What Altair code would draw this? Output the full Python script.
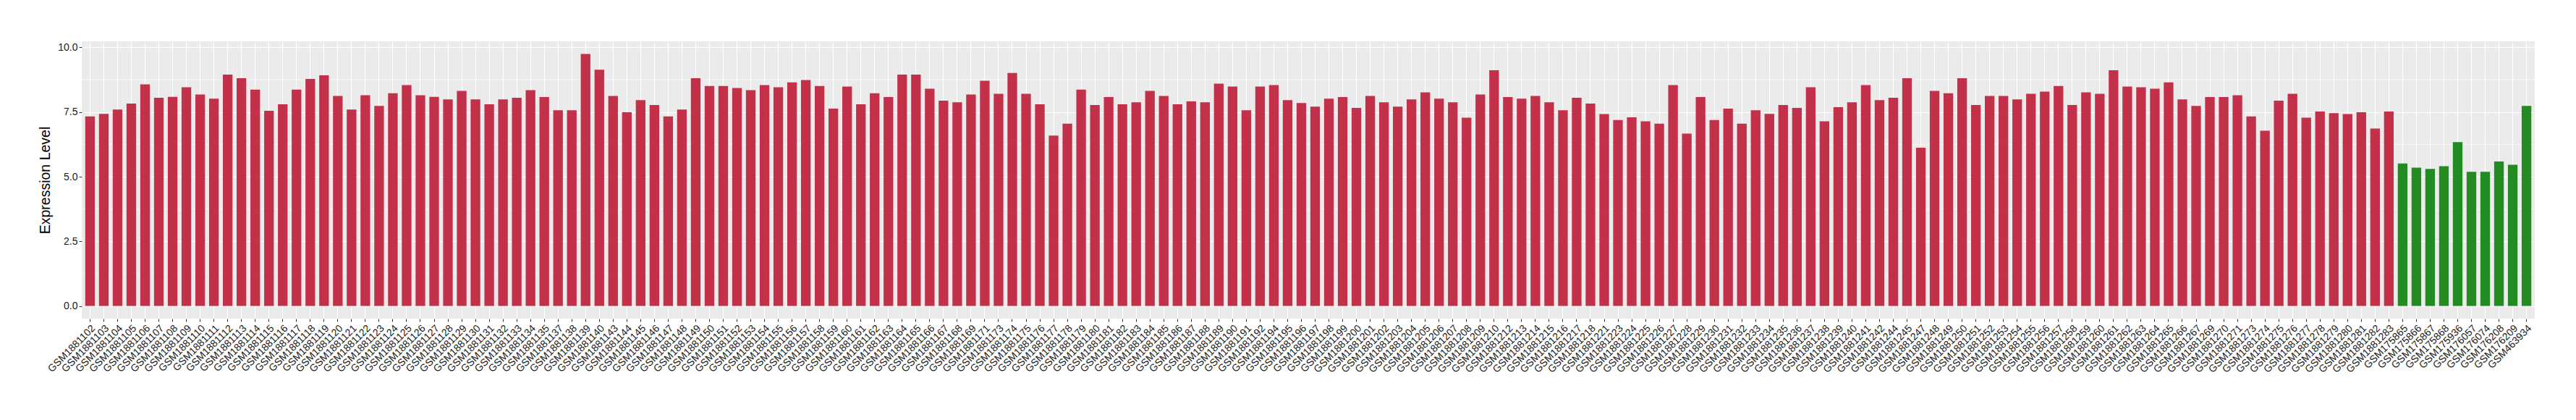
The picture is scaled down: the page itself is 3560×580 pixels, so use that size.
import altair as alt
import pandas as pd

samples = [
    "GSM1881102", "GSM1881103", "GSM1881104", "GSM1881105", "GSM1881106", "GSM1881107", "GSM1881108",
    "GSM1881109", "GSM1881110", "GSM1881111", "GSM1881112", "GSM1881113", "GSM1881114", "GSM1881115",
    "GSM1881116", "GSM1881117", "GSM1881118", "GSM1881119", "GSM1881120",
    "GSM1881121", "GSM1881122", "GSM1881123", "GSM1881124", "GSM1881125", "GSM1881126", "GSM1881127",
    "GSM1881128", "GSM1881129", "GSM1881130", "GSM1881131", "GSM1881132", "GSM1881133", "GSM1881134",
    "GSM1881135", "GSM1881137", "GSM1881138", "GSM1881139", "GSM1881140", "GSM1881143",
    "GSM1881144", "GSM1881145", "GSM1881146", "GSM1881147", "GSM1881148", "GSM1881149", "GSM1881150",
    "GSM1881151", "GSM1881152", "GSM1881153", "GSM1881154", "GSM1881155", "GSM1881156", "GSM1881157",
    "GSM1881158", "GSM1881159", "GSM1881160", "GSM1881161", "GSM1881162", "GSM1881163",
    "GSM1881164", "GSM1881165", "GSM1881166", "GSM1881167", "GSM1881168", "GSM1881169", "GSM1881171",
    "GSM1881173", "GSM1881174", "GSM1881175", "GSM1881176", "GSM1881177", "GSM1881178", "GSM1881179",
    "GSM1881180", "GSM1881181", "GSM1881182", "GSM1881183", "GSM1881184", "GSM1881185",
    "GSM1881186", "GSM1881187", "GSM1881188", "GSM1881189", "GSM1881190", "GSM1881191", "GSM1881192",
    "GSM1881194", "GSM1881195", "GSM1881196", "GSM1881197", "GSM1881198", "GSM1881199", "GSM1881200",
    "GSM1881201", "GSM1881202", "GSM1881203", "GSM1881204", "GSM1881205", "GSM1881206",
    "GSM1881207", "GSM1881208", "GSM1881209", "GSM1881210", "GSM1881212", "GSM1881213", "GSM1881214",
    "GSM1881215", "GSM1881216", "GSM1881217", "GSM1881218", "GSM1881221", "GSM1881223", "GSM1881224",
    "GSM1881225", "GSM1881226", "GSM1881227", "GSM1881228", "GSM1881229", "GSM1881230",
    "GSM1881231", "GSM1881232", "GSM1881233", "GSM1881234", "GSM1881235", "GSM1881236", "GSM1881237",
    "GSM1881238", "GSM1881239", "GSM1881240", "GSM1881241", "GSM1881242", "GSM1881244", "GSM1881245",
    "GSM1881247", "GSM1881248", "GSM1881249", "GSM1881250", "GSM1881251", "GSM1881252",
    "GSM1881253", "GSM1881254", "GSM1881255", "GSM1881256", "GSM1881257", "GSM1881258", "GSM1881259",
    "GSM1881260", "GSM1881261", "GSM1881262", "GSM1881263", "GSM1881264", "GSM1881265", "GSM1881266",
    "GSM1881267", "GSM1881269", "GSM1881270", "GSM1881271", "GSM1881273", "GSM1881274",
    "GSM1881275", "GSM1881276", "GSM1881277", "GSM1881278", "GSM1881279", "GSM1881280", "GSM1881281",
    "GSM1881282", "GSM1881283",
    "GSM175865", "GSM175866", "GSM175867", "GSM175868", "GSM175936", "GSM176057", "GSM176074",
    "GSM176208", "GSM176209", "GSM463934",
]

values = [
    7.33, 7.43, 7.60, 7.83, 8.57, 8.05, 8.09, 8.46, 8.18, 8.02, 8.95, 8.81, 8.37, 7.55, 7.80, 8.37, 8.78, 8.92, 8.12,
    7.60, 8.15, 7.74, 8.23, 8.54, 8.15, 8.09, 7.99, 8.32, 7.99, 7.80, 7.99, 8.05, 8.35, 8.08, 7.57, 7.57, 9.75, 9.14, 8.12,
    7.49, 7.96, 7.77, 7.33, 7.60, 8.81, 8.51, 8.51, 8.43, 8.35, 8.54, 8.46, 8.65, 8.74, 8.51, 7.63, 8.49, 7.80, 8.23, 8.08,
    8.95, 8.95, 8.40, 7.94, 7.88, 8.18, 8.71, 8.21, 9.01, 8.21, 7.80, 6.59, 7.05, 8.37, 7.77, 8.08, 7.80, 7.88, 8.32, 8.12,
    7.80, 7.91, 7.88, 8.60, 8.49, 7.57, 8.49, 8.54, 7.96, 7.85, 7.71, 8.02, 8.08, 7.66, 8.12, 7.88, 7.71, 7.99, 8.26, 8.02,
    7.88, 7.28, 8.18, 9.12, 8.08, 8.02, 8.12, 7.88, 7.57, 8.05, 7.83, 7.42, 7.19, 7.30, 7.14, 7.05, 8.54, 6.67, 8.08, 7.19,
    7.63, 7.05, 7.57, 7.43, 7.77, 7.66, 8.46, 7.14, 7.69, 7.88, 8.54, 7.96, 8.05, 8.81, 6.12, 8.32, 8.23, 8.81, 7.77, 8.12,
    8.12, 7.99, 8.21, 8.29, 8.51, 7.77, 8.26, 8.21, 9.12, 8.49, 8.46, 8.40, 8.65, 7.99, 7.74, 8.08, 8.08, 8.15, 7.33, 6.78,
    7.94, 8.21, 7.28, 7.52, 7.46, 7.42, 7.49, 6.86, 7.52,
    5.51, 5.35, 5.30, 5.41, 6.34, 5.19, 5.19, 5.59, 5.46, 7.74,
]

groups = ["Tumor"] * 168 + ["Normal"] * 10
group_names = ["Tumor", "Normal"]
group_colors = ["#C3304A", "#228B22"]

y_ticks = [0.0, 2.5, 5.0, 7.5, 10.0]
y_minor = [1.25, 3.75, 6.25, 8.75]
y_domain = [-0.4875, 10.2375]

df = pd.DataFrame({"sample": samples, "value": values, "group": groups})
minor_df = pd.DataFrame({"minor": y_minor})

FONT = "Liberation Sans"

yscale = alt.Scale(domain=y_domain, nice=False, zero=False)

minor = alt.Chart(minor_df).mark_rule(color="white", strokeWidth=0.6).encode(
    y=alt.Y("minor:Q", scale=yscale, axis=None)
)

bars = alt.Chart(df).mark_bar().encode(
    x=alt.X(
        "sample:N",
        sort=None,
        scale=alt.Scale(paddingInner=0.3, paddingOuter=0.25),
        axis=alt.Axis(
            title=None,
            labelAngle=315,
            labelFontSize=14,
            labelColor="#1a1a1a",
            labelFont=FONT,
            labelPadding=2,
            tickSize=4,
            tickColor="#333333",
            tickWidth=1,
            domain=False,
            grid=True,
            gridColor="white",
            gridWidth=1.1,
            bandPosition=0.5,
            labelOverlap=False,
            labelLimit=0,
        ),
    ),
    y=alt.Y(
        "value:Q",
        scale=yscale,
        axis=alt.Axis(
            title="Expression Level",
            orient="left",
            values=y_ticks,
            format=".1f",
            labelFontSize=14,
            labelColor="#1a1a1a",
            labelFont=FONT,
            labelPadding=2,
            tickSize=4,
            tickColor="#333333",
            domain=False,
            grid=True,
            gridColor="white",
            gridWidth=1.1,
            titleFont=FONT,
            titleFontSize=19.5,
            titleFontWeight="normal",
            titleColor="black",
            titlePadding=7,
        ),
    ),
    color=alt.Color(
        "group:N",
        scale=alt.Scale(domain=group_names, range=group_colors),
        legend=None,
    ),
)

chart = (
    alt.layer(minor, bars)
    .resolve_axis(y="independent")
    .properties(
        width=3390,
        height=383,
        autosize=alt.AutoSizeParams(type="none"),
        padding={"left": 105, "top": 49, "right": 49, "bottom": 140},
        background="white",
    )
    .configure_view(fill="#EBEBEB", stroke=None)
)

chart.save("out.html", embed_options={"renderer": "svg", "actions": False})
